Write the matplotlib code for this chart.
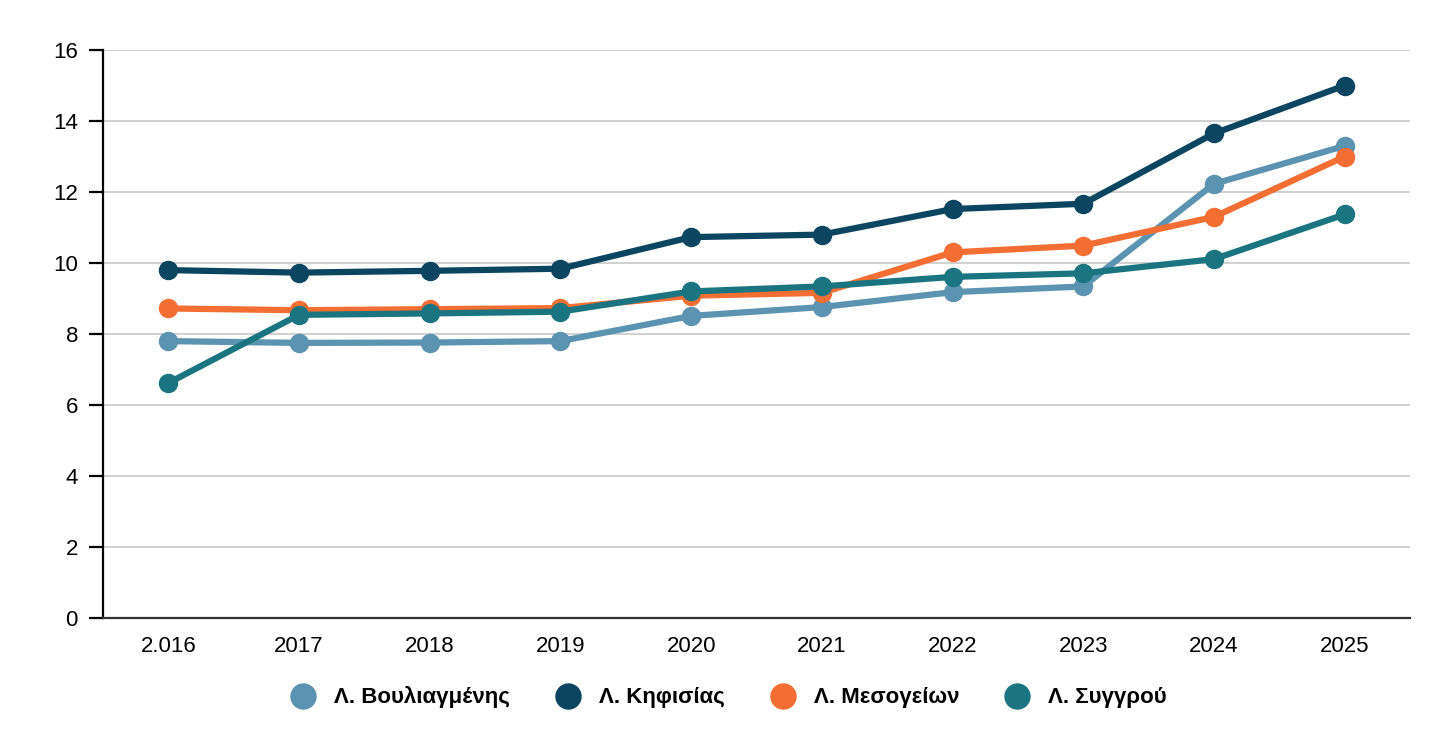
import matplotlib.pyplot as plt
from matplotlib.lines import Line2D

plt.rcParams['font.family'] = ['Liberation Sans', 'DejaVu Sans']

years = ["2.016", "2017", "2018", "2019", "2020", "2021", "2022", "2023", "2024", "2025"]
names = ["Λ. Βουλιαγμένης", "Λ. Κηφισίας", "Λ. Μεσογείων", "Λ. Συγγρού"]
colors = ["#5b93b1", "#0b4560", "#f26e33", "#1b7580"]

vouliagmenis = [7.80, 7.75, 7.76, 7.80, 8.51, 8.76, 9.18, 9.34, 12.23, 13.30]
kifisias = [9.80, 9.73, 9.78, 9.84, 10.73, 10.80, 11.52, 11.67, 13.65, 15.00]
mesogeion = [8.72, 8.67, 8.70, 8.73, 9.08, 9.16, 10.30, 10.49, 11.30, 13.00]
syggrou = [6.62, 8.54, 8.58, 8.63, 9.20, 9.34, 9.61, 9.71, 10.11, 11.37]
series = [vouliagmenis, kifisias, mesogeion, syggrou]

fig = plt.figure(figsize=(14.48, 7.49), dpi=100)
ax = fig.add_axes([0.0711, 0.1749, 0.9027, 0.7583])

x = list(range(len(years)))
for vals, c, n in zip(series, colors, names):
    ax.plot(x, vals, color=c, lw=4.5, marker='o', ms=13, label=n,
            solid_joinstyle='round', zorder=3)

ax.set_xlim(-0.5, 9.5)
ax.set_ylim(0, 16)
ax.set_yticks(range(0, 17, 2))
ax.set_xticks(x)
ax.set_xticklabels(years)
for y in range(2, 17, 2):
    ax.axhline(y, color='#c8c8c8', lw=1.2, zorder=1)

for s in ['top', 'right']:
    ax.spines[s].set_visible(False)
ax.spines['left'].set_color('black')
ax.spines['left'].set_linewidth(1.6)
ax.spines['bottom'].set_color('#333333')
ax.spines['bottom'].set_linewidth(1.6)
ax.tick_params(axis='y', length=10, width=1.6, pad=8, labelsize=16, color='black')
ax.tick_params(axis='x', length=0, pad=13, labelsize=16)

handles = [Line2D([], [], ls='none', marker='o', ms=18, color=c) for c in colors]
fig.legend(handles, names, loc='center', bbox_to_anchor=(0.5, 0.069), ncol=4,
           frameon=False, prop={'weight': 'bold', 'size': 16},
           handletextpad=0.4, columnspacing=1.6)

fig.savefig('out.png', dpi=100)
